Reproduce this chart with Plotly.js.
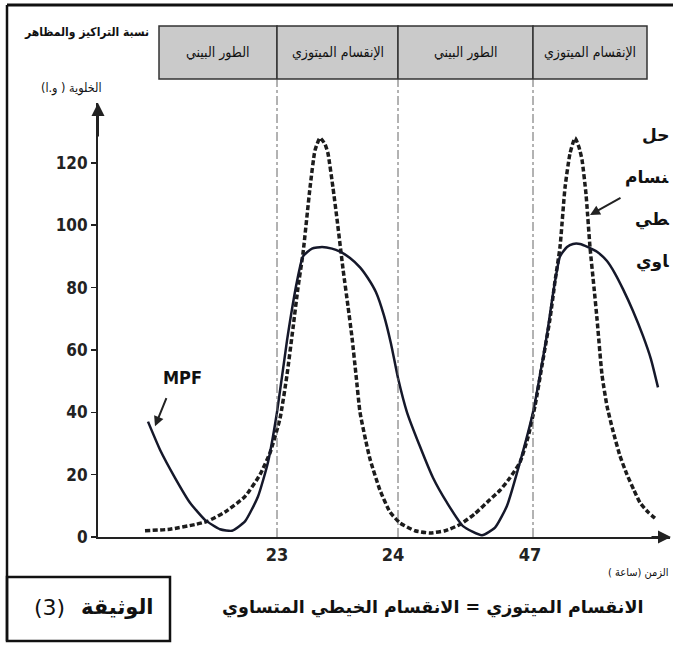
<!DOCTYPE html>
<html><head><meta charset="utf-8">
<script src="https://cdn.plot.ly/plotly-3.0.1.min.js"></script>
<style>html,body{margin:0;padding:0;background:#fff;overflow:hidden}#chart{width:673px;height:645px}</style>
</head><body><div id="chart"></div>
<script>
// time axis position (arbitrary units along the time axis)
const mpfX = [148,160,175,190,205,220,232,245,258,268,277,287,297,303,312,322,332,340,350,360,368,376,384,391,398,407,420,433,447,463,482,495,507,520,533,540,547,554,560,567,573,580,588,597,607,615,623,633,643,651,658];
const mpfY = [37,28,19,11,5.5,2.5,2,5,13,24,40,63,82,90,92.5,93,92.5,91.5,89.5,86.5,83,78.5,71,62,51,40,29,19,11,3.5,0.6,3,10,24,40,52,65,80,90,93,94,94,93,91.5,88.5,84.5,79.5,72.5,64.5,57,48];
const dashX = [145,170,195,207,225,245,260,270,280,287,293,298,303,310,315,320,325,328,333,337,343,348,352,356,360,365,370,380,390,400,415,430,445,460,475,490,500,510,520,528,535,542,550,555,560,565,570,575,579,582,586,590,594,597,602,607,613,620,627,634,640,648,657];
const dashY = [2,2.5,4,5,8,13,20,27,38,52,67,80,91,112,124,128,126,123,112,102,86,74,64,52,40,32,25,15,8,4.5,2,1.3,2,4,7.5,12,15,19,24,32,42,55,70,82,93,112,123,128,125,121,110,93,80,70,52,42,34,26,20,15,11,8,5.5];
const phaseBounds = [159, 277, 398, 533, 647];
const phaseLabels = ['الطور البيني','الإنقسام الميتوزي','الطور البيني','الإنقسام الميتوزي'];
const xTickPos = [277, 393, 530];
const xTickText = ['23','24','47'];
const yTicks = [0,20,40,60,80,100,120];

const W=673,H=645,L=98,R=3,T=103,B=108;
const pw=W-L-R, ph=H-T-B;
const px=(x)=>(x-L)/pw, py=(y)=>(H-B-y)/ph;
const AR='DejaVu Sans', ARC='DejaVu Sans Condensed', NUM='Liberation Sans Narrow, DejaVu Sans Condensed, sans-serif';

const traces = [
 {x:dashX,y:dashY,mode:'lines',line:{color:'#1c1c1c',width:3.5,dash:'5px,2.5px',shape:'spline',smoothing:0.5},hoverinfo:'skip',showlegend:false},
 {x:mpfX,y:mpfY,mode:'lines',line:{color:'#15182a',width:2.5,shape:'spline',smoothing:0.5},hoverinfo:'skip',showlegend:false}
];

const shapes=[], ann=[];
function txt(x,y,text,font,xa){ann.push({xref:'paper',yref:'paper',x:px(x),y:py(y),xanchor:xa||'center',yanchor:'middle',text:text,showarrow:false,font:font});}
// frame
shapes.push({type:'line',xref:'paper',yref:'paper',x0:px(7),x1:px(7),y0:py(5),y1:py(641),line:{color:'#111',width:2.5}});
shapes.push({type:'line',xref:'paper',yref:'paper',x0:px(7),x1:px(673),y0:py(5),y1:py(5),line:{color:'#111',width:3}});
// header cells
for(let i=0;i<phaseLabels.length;i++){
  shapes.push({type:'rect',xref:'x',yref:'paper',x0:phaseBounds[i],x1:phaseBounds[i+1],y0:py(79),y1:py(26),fillcolor:'#cacaca',line:{color:'#333',width:1.5},layer:'below'});
  ann.push({xref:'x',yref:'paper',x:(phaseBounds[i]+phaseBounds[i+1])/2,y:py(52),xanchor:'center',yanchor:'middle',text:phaseLabels[i],showarrow:false,font:{family:ARC,size:14,color:'#111'}});
}
// phase boundaries (dash-dot)
for(let i=1;i<phaseBounds.length-1;i++){
  shapes.push({type:'line',xref:'x',yref:'paper',x0:phaseBounds[i],x1:phaseBounds[i],y0:0,y1:py(79),line:{color:'#666',width:1,dash:'dashdot'}});
}
// axis arrows
ann.push({xref:'x',yref:'y',x:98,y:139.2,ax:98,ay:128,axref:'x',ayref:'y',text:'',showarrow:true,arrowhead:2,arrowsize:1.3,arrowwidth:2,arrowcolor:'#222'});
ann.push({xref:'x',yref:'y',x:671,y:0,ax:650,ay:0,axref:'x',ayref:'y',text:'',showarrow:true,arrowhead:2,arrowsize:1.3,arrowwidth:2,arrowcolor:'#222'});
// y title
txt(151,33,'<b>نسبة التراكيز والمظاهر</b>',{family:ARC,size:12,color:'#111'},'right');
txt(104,88,'الخلوية ( و.ا)',{family:ARC,size:12.5,color:'#111'},'right');
// MPF label
ann.push({xref:'x',yref:'y',x:182,y:51.3,xanchor:'center',yanchor:'middle',text:'<b>MPF</b>',showarrow:false,font:{family:NUM,size:18,color:'#111'}});
ann.push({xref:'x',yref:'y',x:155,y:35.5,ax:167,ay:45,axref:'x',ayref:'y',text:'',showarrow:true,arrowhead:2,arrowsize:1,arrowwidth:2,arrowcolor:'#222'});
// right side label (cut at the picture edge in the original)
const rightWords=['حل','\u200Dنسام','\u200Dطي','\u200Dاوي'];
const rightY=[135,177,219,261];
for(let i=0;i<4;i++){ txt(671,rightY[i],'<b>'+rightWords[i]+'</b>',{family:AR,size:17,color:'#111'},'right'); }
ann.push({xref:'x',yref:'y',x:590,y:103.3,ax:622,ay:109,axref:'x',ayref:'y',text:'',showarrow:true,arrowhead:2,arrowsize:1,arrowwidth:2,arrowcolor:'#222'});
// x title
txt(671,572,'الزمن (ساعة )',{family:ARC,size:11,color:'#111'},'right');
// caption
txt(432,607,'<b>الانقسام الميتوزي = الانقسام الخيطي المتساوي</b>',{family:AR,size:17.5,color:'#111'});
// document box
shapes.push({type:'rect',xref:'paper',yref:'paper',x0:px(7),x1:px(170),y0:py(641),y1:py(577),line:{color:'#111',width:2.5},fillcolor:'rgba(0,0,0,0)'});
txt(117,607,'<b>الوثيقة</b>',{family:AR,size:21,color:'#111'});
txt(49,607,'(3)',{family:AR,size:22,color:'#111'});

const layout={
  width:W,height:H,margin:{l:L,r:R,t:T,b:B,pad:0},
  paper_bgcolor:'#fff',plot_bgcolor:'#fff',showlegend:false,
  xaxis:{range:[L,W-R],showgrid:false,zeroline:false,showline:true,linecolor:'#222',linewidth:2,
    tickmode:'array',tickvals:xTickPos,ticktext:xTickText,ticks:'',tickfont:{family:NUM,size:18,color:'#222',weight:'bold'}},
  yaxis:{range:[0,139.2],showgrid:false,zeroline:false,showline:true,linecolor:'#222',linewidth:2,
    tickmode:'array',tickvals:yTicks,ticks:'outside',ticklen:5,tickwidth:1.5,tickcolor:'#222',
    tickfont:{family:NUM,size:17,color:'#222',weight:'bold'}},
  shapes:shapes,annotations:ann
};
Plotly.newPlot('chart',traces,layout,{staticPlot:true,displayModeBar:false});
</script></body></html>
